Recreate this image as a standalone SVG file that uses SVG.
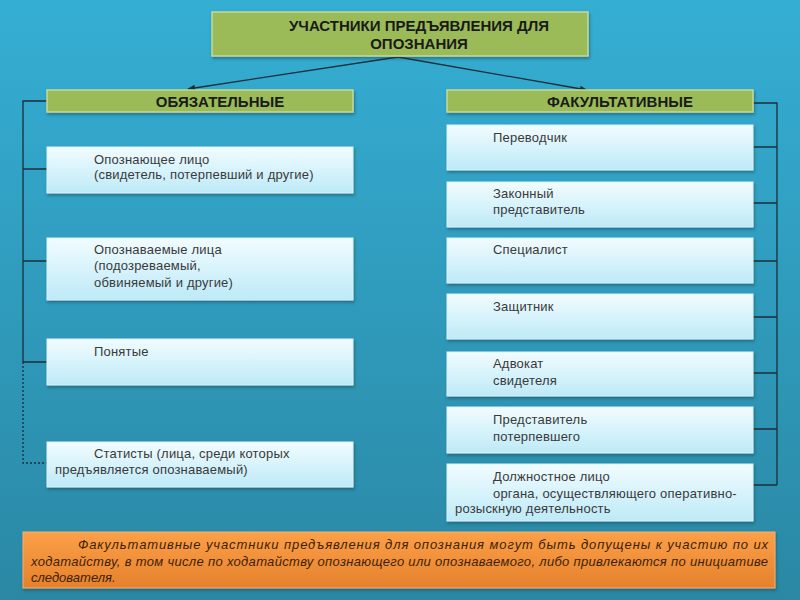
<svg xmlns="http://www.w3.org/2000/svg" width="800" height="600" viewBox="0 0 800 600">
<defs>
<linearGradient id="bg" x1="0" y1="0" x2="0" y2="1">
<stop offset="0" stop-color="#35aed4"/>
<stop offset="1" stop-color="#2a88a4"/>
</linearGradient>
<linearGradient id="lb" x1="0" y1="0" x2="0" y2="1">
<stop offset="0" stop-color="#f2fcff"/>
<stop offset="1" stop-color="#bdeaf7"/>
</linearGradient>
<linearGradient id="og" x1="0" y1="0" x2="0" y2="1">
<stop offset="0" stop-color="#fca048"/>
<stop offset="1" stop-color="#e5812c"/>
</linearGradient>
<filter id="sh" x="-5%" y="-20%" width="110%" height="150%">
<feDropShadow dx="1" dy="2" stdDeviation="1.5" flood-color="#0b3a4a" flood-opacity="0.5"/>
</filter>
<marker id="ah" viewBox="0 0 10 10" refX="9" refY="5" markerWidth="6" markerHeight="6" orient="auto">
<path d="M0,1 L10,5 L0,9 z" fill="#1b2f3a"/>
</marker>
</defs>
<style>
.green{fill:#9bbb59;stroke:#c4d99a;stroke-width:1.5;filter:url(#sh)}
.light{fill:url(#lb);stroke:#d6f3fb;stroke-width:1;filter:url(#sh)}
.hd{font-family:"Liberation Sans",Arial,sans-serif;font-weight:bold;font-size:15px;fill:#1a1a1a;text-anchor:middle}
.tx{font-family:"Liberation Sans",Arial,sans-serif;font-size:13px;fill:#3a3a3a;letter-spacing:0.2px}
.it{font-family:"Liberation Sans Narrow","Liberation Sans",Arial,sans-serif;font-style:italic;font-size:13px;fill:#3d1f05}
.ln{stroke:#1b2f3a;stroke-width:1.3;fill:none}
.dl{stroke:#1b2f3a;stroke-width:1.3;fill:none;stroke-dasharray:2 2}
</style>
<rect x="0" y="0" width="800" height="600" fill="url(#bg)"/>

<g id="connectors">
<line class="ln" x1="398" y1="57" x2="188" y2="89" marker-end="url(#ah)"/>
<line class="ln" x1="398" y1="57" x2="587" y2="90" marker-end="url(#ah)"/>
<path class="ln" d="M47,101 H23 V362 M23,169 H47 M23,261 H47 M23,362 H47"/>
<path class="dl" d="M23,362 V463 H47"/>
<path class="ln" d="M753,103 H777 V485 M777,147 H753 M777,203 H753 M777,261 H753 M777,317 H753 M777,373 H753 M777,429 H753 M777,485 H753"/>
</g>

<g id="root">
<rect class="green" x="212" y="12" width="376" height="44"/>
<text class="hd" x="419" y="30.5">УЧАСТНИКИ ПРЕДЪЯВЛЕНИЯ ДЛЯ</text>
<text class="hd" x="419" y="48.5">ОПОЗНАНИЯ</text>
</g>

<g id="mandatory">
<rect class="green" x="47" y="90" width="306" height="22"/>
<text class="hd" x="220" y="106.5">ОБЯЗАТЕЛЬНЫЕ</text>
</g>
<g id="optional">
<rect class="green" x="447" y="90" width="306" height="22"/>
<text class="hd" x="620" y="106.5">ФАКУЛЬТАТИВНЫЕ</text>
</g>

<g id="m1">
<rect class="light" x="47" y="147" width="306" height="46"/>
<text class="tx" x="94" y="163.5">Опознающее лицо</text>
<text class="tx" x="94" y="179">(свидетель, потерпевший и другие)</text>
</g>
<g id="m2">
<rect class="light" x="47" y="238" width="306" height="62"/>
<text class="tx" x="94" y="253.5">Опознаваемые лица</text>
<text class="tx" x="94" y="270">(подозреваемый,</text>
<text class="tx" x="94" y="286.5">обвиняемый и другие)</text>
</g>
<g id="m3">
<rect class="light" x="47" y="339" width="306" height="46"/>
<text class="tx" x="94" y="355.5">Понятые</text>
</g>
<g id="m4">
<rect class="light" x="47" y="442" width="306" height="45"/>
<text class="tx" x="94" y="457.5">Статисты (лица, среди которых</text>
<text class="tx" x="55" y="473.5">предъявляется опознаваемый)</text>
</g>

<g id="o1">
<rect class="light" x="447" y="125" width="306" height="45"/>
<text class="tx" x="493" y="141.5">Переводчик</text>
</g>
<g id="o2">
<rect class="light" x="447" y="182" width="306" height="45"/>
<text class="tx" x="493" y="197.5">Законный</text>
<text class="tx" x="493" y="213.5">представитель</text>
</g>
<g id="o3">
<rect class="light" x="447" y="238" width="306" height="45"/>
<text class="tx" x="493" y="253.5">Специалист</text>
</g>
<g id="o4">
<rect class="light" x="447" y="294" width="306" height="45"/>
<text class="tx" x="493" y="310.5">Защитник</text>
</g>
<g id="o5">
<rect class="light" x="447" y="352" width="306" height="44"/>
<text class="tx" x="493" y="367.5">Адвокат</text>
<text class="tx" x="493" y="384.5">свидетеля</text>
</g>
<g id="o6">
<rect class="light" x="447" y="407" width="306" height="46"/>
<text class="tx" x="493" y="423.5">Представитель</text>
<text class="tx" x="493" y="440.5">потерпевшего</text>
</g>
<g id="o7">
<rect class="light" x="447" y="464" width="306" height="57"/>
<text class="tx" x="493" y="480.5">Должностное лицо</text>
<text class="tx" x="493" y="497.5">органа, осуществляющего оперативно-</text>
<text class="tx" x="455" y="512.5">розыскную деятельность</text>
</g>

<g id="note">
<rect x="23" y="532" width="752" height="56" fill="url(#og)" stroke="#f6b070" stroke-width="1" filter="url(#sh)"/>
<text class="it" x="78" y="548.5" textLength="690" lengthAdjust="spacing">Факультативные участники предъявления для опознания могут быть допущены к участию по их</text>
<text class="it" x="31" y="565.5" textLength="737" lengthAdjust="spacing">ходатайству, в том числе по ходатайству опознающего или опознаваемого, либо привлекаются по инициативе</text>
<text class="it" x="31" y="581.5">следователя.</text>
</g>
</svg>
